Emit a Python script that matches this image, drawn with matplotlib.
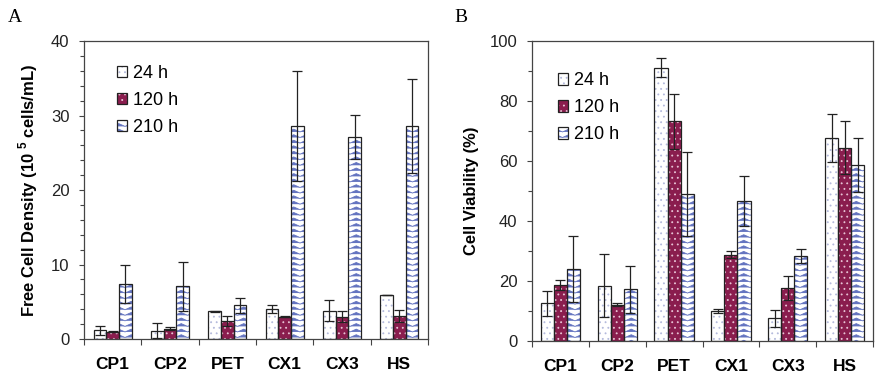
import numpy as np
import matplotlib
matplotlib.use('Agg')
import matplotlib.pyplot as plt
from matplotlib import hatch as mhatch
from matplotlib.path import Path
from matplotlib.patches import Patch
from matplotlib.ticker import MultipleLocator

# ---------------- data ----------------
categories = ['CP1', 'CP2', 'PET', 'CX1', 'CX3', 'HS']
series_labels = ['24 h', '120 h', '210 h']

density_24 = [1.2, 1.1, 3.7, 4.0, 3.8, 5.9]
density_24_err = [0.6, 1.0, 0.1, 0.5, 1.4, 0.0]
density_120 = [1.0, 1.4, 2.4, 3.0, 3.0, 3.1]
density_120_err = [0.1, 0.25, 0.65, 0.1, 0.75, 0.8]
density_210 = [7.4, 7.1, 4.5, 28.6, 27.1, 28.6]
density_210_err = [2.5, 3.3, 1.0, 7.4, 3.0, 6.3]

viability_24 = [12.6, 18.4, 91.1, 10.0, 7.6, 67.8]
viability_24_err = [4.2, 10.5, 3.1, 0.6, 2.8, 8.0]
viability_120 = [18.7, 12.0, 73.2, 28.8, 17.7, 64.4]
viability_120_err = [1.7, 0.5, 9.1, 1.3, 4.1, 8.9]
viability_210 = [23.9, 17.2, 49.0, 46.7, 28.4, 58.5]
viability_210_err = [11.0, 7.8, 14.1, 8.4, 2.4, 9.0]

# ---------------- custom wavy hatch (replaces '-') ----------------
class WavyHatch(mhatch.HatchPatternBase):
    periods = 8
    def __init__(self, hatch, density):
        self.num_lines = int(hatch.count('-') * density)
        self.npts = self.periods * 2 + 1
        self.num_vertices = self.num_lines * self.npts

    def set_vertices_and_codes(self, vertices, codes):
        steps, stepsize = np.linspace(0.0, 1.0, self.num_lines, False, retstep=True)
        steps += stepsize / 2.0
        xs = np.linspace(0.0, 1.0, self.npts)
        tri = np.where(np.arange(self.npts) % 2 == 0, -1.0, 1.0) * 0.25 * stepsize
        for i, s in enumerate(steps):
            a = i * self.npts
            vertices[a:a + self.npts, 0] = xs
            vertices[a:a + self.npts, 1] = s + tri
            codes[a:a + self.npts] = Path.LINETO
            codes[a] = Path.MOVETO

mhatch._hatch_types = [WavyHatch if t is mhatch.HorizontalHatch else t
                       for t in mhatch._hatch_types]

plt.rcParams['font.family'] = ['Liberation Sans', 'DejaVu Sans']
plt.rcParams['hatch.linewidth'] = 0.6
plt.rcParams['mathtext.fontset'] = 'custom'
plt.rcParams['mathtext.rm'] = 'Liberation Sans:bold'
plt.rcParams['mathtext.bf'] = 'Liberation Sans:bold'

maroon = '#8A1D4E'
styles = [
    dict(face='white', hatch='...', hcolor='#B4BADC'),
    dict(face=maroon, hatch='...', hcolor='#E8C4D6'),
    dict(face='white', hatch='---', hcolor='#6474C0'),
]

fig = plt.figure(figsize=(8.83, 3.79), dpi=100)
axA = fig.add_axes([0.0951, 0.1055, 0.3896, 0.7863])
axB = fig.add_axes([0.6025, 0.1003, 0.3862, 0.7916])

def draw(ax, vals, errs, width, ylim, major, minor, ylabel, leg_anchor):
    x = np.arange(len(categories))
    handles = []
    for k, (v, e, st) in enumerate(zip(vals, errs, styles)):
        pos = x + (k - 1) * width
        ax.bar(pos, v, width, color=st['face'], edgecolor=st['hcolor'],
               hatch=st['hatch'], linewidth=0, zorder=2)
        ax.bar(pos, v, width, fill=False, edgecolor='#222222',
               linewidth=0.9, zorder=2.5)
        ax.errorbar(pos, v, yerr=e, fmt='none', ecolor='#222222',
                    elinewidth=0.9, capsize=3.5, capthick=0.9, zorder=3)
        h1 = Patch(facecolor=st['face'], edgecolor=st['hcolor'],
                   hatch=st['hatch'], linewidth=0)
        h2 = Patch(fill=False, edgecolor='#222222', linewidth=0.9)
        handles.append((h1, h2))
    ax.set_xlim(-0.5, len(categories) - 0.5)
    ax.set_ylim(*ylim)
    ax.yaxis.set_major_locator(MultipleLocator(major))
    ax.yaxis.set_minor_locator(MultipleLocator(minor))
    ax.set_xticks(np.arange(-0.5, len(categories), 1.0))
    ax.set_xticklabels([])
    ax.set_xticks(x, minor=True)
    ax.set_xticklabels(categories, minor=True, fontsize=12.5, fontweight='bold')
    ax.tick_params(axis='x', which='major', direction='out', length=4,
                   width=0.8, color='#444444')
    ax.tick_params(axis='x', which='minor', length=0, pad=13)
    ax.tick_params(axis='y', which='both', direction='out', width=0.8,
                   color='#444444', labelsize=12, labelcolor='#222222', pad=7)
    ax.tick_params(axis='y', which='major', length=3.5)
    ax.tick_params(axis='y', which='minor', length=3)
    for s in ax.spines.values():
        s.set_color('#444444')
        s.set_linewidth(0.9)
    ax.set_ylabel(ylabel, fontsize=12, fontweight='bold', labelpad=8)
    ax.legend(handles, series_labels, loc='upper left', bbox_to_anchor=leg_anchor,
              frameon=False, fontsize=13, handlelength=0.6, handleheight=0.6,
              handletextpad=0.3, labelspacing=0.55, borderpad=0, borderaxespad=0)

draw(axA, [density_24, density_120, density_210],
     [density_24_err, density_120_err, density_210_err],
     0.22, (0, 40), 10, 2,
     r'Free Cell Density (10 $^{5}$ cells/mL)', (0.095, 0.92))
draw(axB, [viability_24, viability_120, viability_210],
     [viability_24_err, viability_120_err, viability_210_err],
     0.23, (0, 100), 20, 10,
     'Cell Viability (%)', (0.075, 0.895))

fig.text(0.009, 0.955, 'A', family='Liberation Serif', fontsize=14, va='center')
fig.text(0.515, 0.955, 'B', family='Liberation Serif', fontsize=14, va='center')

fig.savefig('out.png', dpi=100)
